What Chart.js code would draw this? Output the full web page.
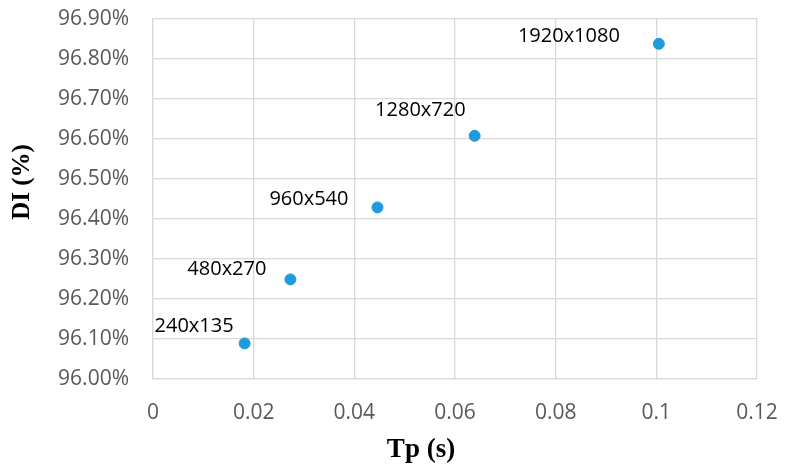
<!DOCTYPE html>
<html>
<head>
<meta charset="utf-8">
<script src="https://cdn.jsdelivr.net/npm/chart.js@4.4.1/dist/chart.umd.min.js"></script>
<style>
  html, body { margin:0; padding:0; background:#fff; }
  #wrap { width:785px; height:472px; }
</style>
</head>
<body>
<div id="wrap"><canvas id="chart" width="785" height="472"></canvas></div>
<script>
/* DATA */
const resolutions = ["240x135", "480x270", "960x540", "1280x720", "1920x1080"];
const tpValues = [0.0182, 0.0273, 0.0446, 0.0639, 0.1005];
const diValues = [96.089, 96.249, 96.429, 96.608, 96.838];
const xTicks = [0, 0.02, 0.04, 0.06, 0.08, 0.1, 0.12];
const yTicks = [96.0, 96.1, 96.2, 96.3, 96.4, 96.5, 96.6, 96.7, 96.8, 96.9];
const xTitle = "Tp (s)";
const yTitle = "DI (%)";

/* label offsets from the point (right edge of text, centre line) */
const labelDx = [-11, -24, -29, -9, -39];
const labelDy = [-17, -10, -8, -26, -8];

const GRID = "#d9d9d9";
const TICK = "#595959";

/* POINT LABELS + AXIS TITLES (Excel puts titles off-centre) */
const extraText = {
  id: "extraText",
  afterDatasetsDraw(chart){
    const ctx = chart.ctx;
    const area = chart.chartArea;
    const meta = chart.getDatasetMeta(0);
    ctx.save();
    ctx.font = "20px 'Open Sans'";
    ctx.fillStyle = "#000";
    ctx.textAlign = "right";
    ctx.textBaseline = "middle";
    meta.data.forEach((pt, i) => {
      ctx.fillText(resolutions[i], pt.x + labelDx[i], pt.y + labelDy[i]);
    });

    ctx.textAlign = "center";
    ctx.font = "bold 27px 'Liberation Serif'";
    ctx.fillText(xTitle, area.left + 268, area.bottom + 71);

    ctx.font = "bold 25px 'Liberation Serif'";
    ctx.translate(area.left - 130, area.top + 163);
    ctx.rotate(-Math.PI / 2);
    ctx.fillText(yTitle, 0, 0);
    ctx.restore();
  }
};

new Chart(document.getElementById("chart"), {
  type: "scatter",
  data: {
    datasets: [{
      label: "DI",
      data: tpValues.map((t, i) => ({ x: t, y: diValues[i] })),
      backgroundColor: "#1f9bdb",
      borderColor: "#1f9bdb",
      pointRadius: 5.5,
      pointHoverRadius: 5.5
    }]
  },
  options: {
    responsive: false,
    animation: false,
    layout: { padding: { top: 19, right: 28, left: 0, bottom: 0 } },
    plugins: { legend: { display:false }, tooltip: { enabled:false } },
    scales: {
      x: {
        type: "linear",
        min: 0, max: 0.12,
        afterBuildTicks: s => { s.ticks = xTicks.map(v => ({ value: v })); },
        afterFit: s => { s.height = 93; s.paddingLeft = 0; s.paddingRight = 0; },
        grid: { color: GRID, lineWidth: 1.3, drawTicks: false },
        border: { color: GRID, width: 1.3 },
        ticks: {
          color: TICK,
          font: { family: "'Open Sans'", size: 21 },
          padding: 21,
          callback: v => String(parseFloat(v.toFixed(2)))
        }
      },
      y: {
        type: "linear",
        min: 96.0, max: 96.9,
        afterBuildTicks: s => { s.ticks = yTicks.map(v => ({ value: v })); },
        afterFit: s => { s.width = 153; s.paddingTop = 0; s.paddingBottom = 0; },
        grid: { color: GRID, lineWidth: 1.3, drawTicks: false },
        border: { color: GRID, width: 1.3 },
        ticks: {
          color: TICK,
          font: { family: "'Open Sans'", size: 21 },
          padding: 24,
          callback: v => v.toFixed(2) + "%"
        }
      }
    }
  },
  plugins: [extraText]
});
</script>
</body>
</html>
